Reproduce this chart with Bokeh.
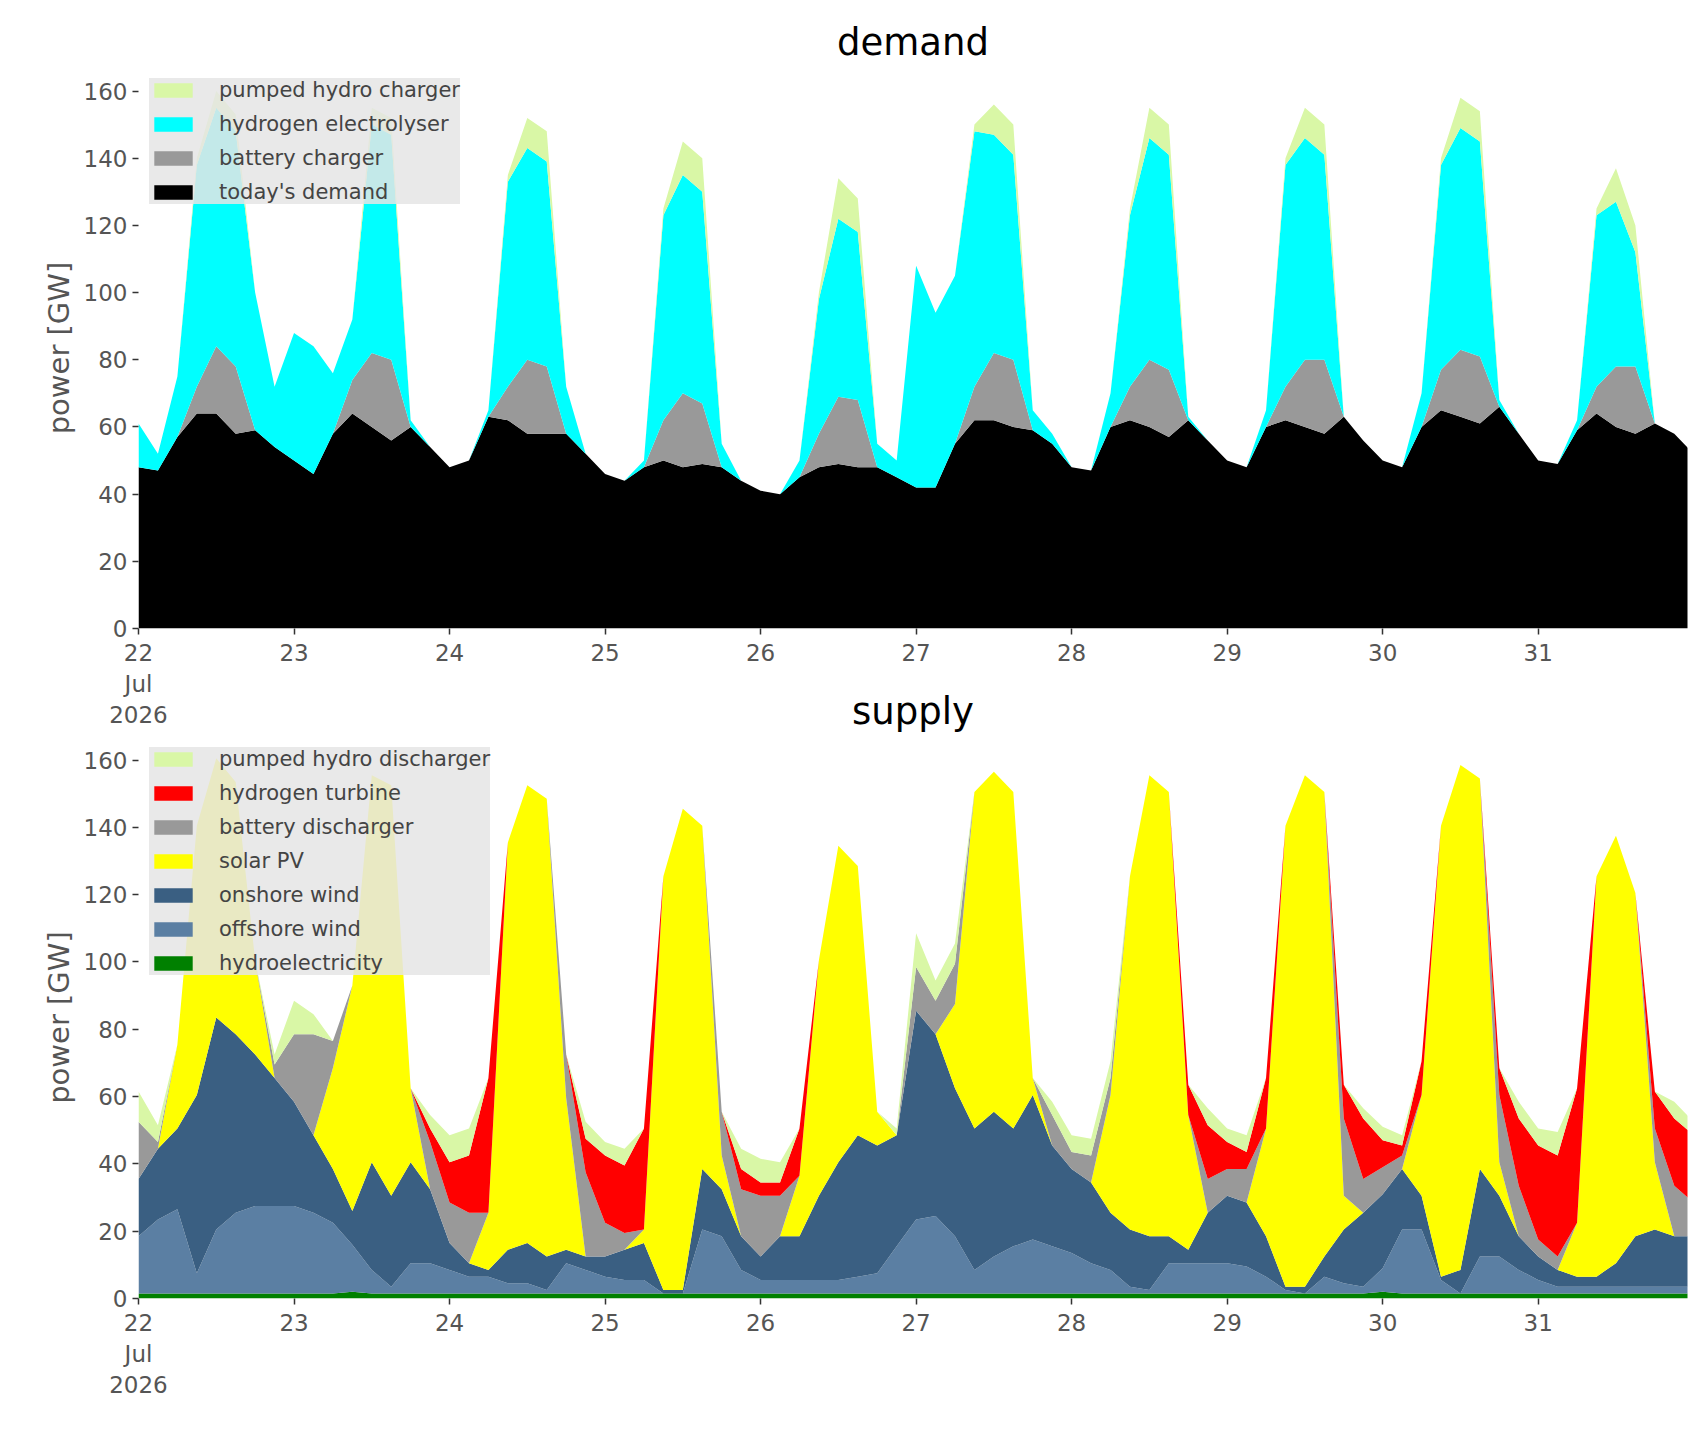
import numpy as np
from bokeh.plotting import figure
from bokeh.layouts import column
from bokeh.models import Range1d, FixedTicker, ColumnDataSource, Legend
from bokeh.embed import file_html
from bokeh.resources import INLINE

# 3-hourly samples, 22 Jul 00:00 .. 1 Aug 00:00 (81 points)
day_labels = ["22\nJul\n2026", "23", "24", "25", "26", "27", "28", "29", "30", "31"]

today_demand = [48,47,57,64,64,58,59,54, 50,46,58,64,60,56,60,54, 48,50,63,62,58,58,58,52,
                46,44,48,50,48,49,48,44, 41,40,45,48,49,48,48,45, 42,42,55,62,62,60,59,55,
                48,47,60,62,60,57,62,56, 50,48,60,62,60,58,63,56, 50,48,60,65,63,61,66,58,
                50,49,59,64,60,58,61,58, 52]
battery_charger = [0,0,0,8,20,20,0,0, 0,0,0,10,22,24,0,0, 0,0,0,10,22,20,0,0, 0,0,0,12,22,18,0,0,
                   0,0,0,10,20,20,0,0, 0,0,0,10,20,20,0,0, 0,0,0,10,20,20,0,0, 0,0,0,10,20,22,0,0,
                   0,0,0,12,20,20,0,0, 0,0,0,8,18,20,0,0, 0]
electrolyser = [13,5,18,66,71,70,41,18, 38,38,18,18,68,67,2,0, 0,0,2,61,63,61,14,0, 0,0,2,61,65,63,7,0,
                0,0,5,40,53,50,7,5, 66,52,50,76,65,61,6,3, 0,0,10,51,66,64,1,0, 0,0,5,66,66,61,0,0,
                0,0,10,61,66,64,2,0, 0,0,3,51,49,34,0,0, 0]
ph_charger = [0,0,0,2,5,5,0,0, 0,0,0,0,5,5,0,0, 0,0,0,2,9,9,0,0, 0,0,0,2,10,10,0,0,
              0,0,0,2,12,10,0,0, 0,0,0,2,9,9,0,0, 0,0,0,2,9,9,0,0, 0,0,0,2,9,9,0,0,
              0,0,0,2,9,9,0,0, 0,0,0,2,10,8,0,0, 0]

hydro = [1.5,1.5,1.5,1.5,1.5,1.5,1.5,1.5, 1.5,1.5,1.5,2,1.5,1.5,1.5,1.5, 1.5,1.5,1.5,1.5,1.5,1.5,1.5,1.5,
         1.5,1.5,1.5,1.5,1.5,1.5,1.5,1.5, 1.5,1.5,1.5,1.5,1.5,1.5,1.5,1.5, 1.5,1.5,1.5,1.5,1.5,1.5,1.5,1.5,
         1.5,1.5,1.5,1.5,1.5,1.5,1.5,1.5, 1.5,1.5,1.5,1.5,1.5,1.5,1.5,1.5, 2,1.5,1.5,1.5,1.5,1.5,1.5,1.5,
         1.5,1.5,1.5,1.5,1.5,1.5,1.5,1.5, 1.5]
offshore = [17,22,25,6,19,24,26,26, 26,24,21,14,7,2,9,9, 7,5,5,3,3,1,9,7, 5,4,4,0,0,19,17,7,
            4,4,4,4,4,5,6,14, 22,23,17,7,11,14,16,14, 12,9,7,2,1,9,9,9, 9,8,5,1,0,5,3,2,
            7,19,19,4,0,11,11,7, 4,2,2,2,2,2,2,2, 2]
onshore = [17,21,24,53,63,53,45,38, 31,23,16,10,32,27,30,22, 8,4,2,10,12,10,4,4, 6,9,11,1,1,18,14,10,
           7,13,13,25,35,42,38,33, 62,54,44,42,43,35,43,30, 25,24,17,17,16,8,4,15, 20,19,12,1,2,6,16,22,
           22,18,10,1,7,26,18,10, 7,5,3,3,7,15,17,15, 15]
solar = [0,0,25,80,77,75,28,0, 0,0,30,67,115,122,22,0, 0,0,17,121,136,136,45,0, 0,0,4,123,143,102,10,0,
         0,0,18,70,94,80,10,0, 0,0,25,100,101,100,5,0, 0,0,35,105,137,132,40,0, 0,0,32,137,152,138,10,0,
         0,0,30,134,150,116,10,0, 0,0,16,119,127,102,20,0, 0]
battery_dis = [17,2,0,0,0,0,0,4, 20,30,8,0,0,0,0,14, 12,15,0,0,0,0,13,25, 10,5,0,0,0,0,13,14,
               18,12,0,0,0,0,0,0, 13,10,12,0,0,0,0,9, 5,8,5,0,0,0,0,10, 8,10,0,0,0,0,23,10,
               8,4,0,0,0,0,20,15, 5,4,0,0,0,0,10,15, 10]
h2_turbine = [0,0,0,0,0,0,0,0, 0,0,0,0,0,0,0,4, 12,17,40,0,0,0,0,10, 20,20,30,0,0,0,0,6,
              4,4,14,0,0,0,0,0, 0,0,0,0,0,0,0,0, 0,0,0,0,0,0,9,16, 8,5,15,0,0,0,10,18,
              8,3,10,0,0,0,8,20, 28,30,40,0,0,0,11,20, 20]
ph_dis = [9,5,0,0,0,0,0,3, 10,6,0,0,0,0,0,4, 8,8,0,0,0,0,0,5, 4,5,0,0,0,0,0,6,
          7,6,0,0,0,0,0,2, 10,6,6,0,0,0,0,4, 5,5,5,0,0,0,0,5, 4,5,0,0,0,0,0,3,
          4,3,0,0,0,0,0,5, 5,7,0,0,0,0,0,5, 4]

x = [i * 3 / 24 for i in range(len(today_demand))]

FONT = "DejaVu Sans"
GRAY = "#555555"
BL, FW, BR = 138, 1549, 6

def make_fig(title, height, border_top, border_bottom, keys, labels, colors, data):
    src = ColumnDataSource(dict(x=x, **data))
    p = figure(width=BL + FW + BR, height=height, output_backend="svg", toolbar_location=None,
               x_range=Range1d(0, 9.96), y_range=Range1d(0, 167),
               min_border_left=BL, min_border_right=BR,
               min_border_top=border_top, min_border_bottom=border_bottom)
    p.title.text = title
    p.title.align = "center"
    p.title.text_font = FONT
    p.title.text_font_size = "37px"
    p.title.text_font_style = "normal"
    p.title.text_color = "#000000"
    p.title.standoff = 8
    rs = p.varea_stack(stackers=keys, x="x", color=colors, source=src)
    items = [(lab, [r]) for lab, r in zip(labels, rs)][::-1]
    leg = Legend(items=items, location="top_left", background_fill_color="#e5e5e5",
                 background_fill_alpha=0.85, border_line_color=None,
                 label_text_font=FONT, label_text_font_size="21px",
                 glyph_width=48, glyph_height=18, label_height=24, spacing=10,
                 padding=9, margin=11, label_standoff=22)
    p.add_layout(leg)
    p.xgrid.visible = False
    p.ygrid.visible = False
    p.outline_line_color = None
    p.background_fill_color = "white"
    for ax in (p.xaxis[0], p.yaxis[0]):
        ax.axis_line_color = None
        ax.minor_tick_line_color = None
        ax.major_tick_line_color = "#333333"
        ax.major_tick_line_width = 1.5
        ax.major_tick_out = 6
        ax.major_tick_in = 0
        ax.major_label_text_font = FONT
        ax.major_label_text_font_size = "23px"
        ax.major_label_text_color = GRAY
    p.xaxis.ticker = FixedTicker(ticks=list(range(11)))
    p.xaxis.major_label_overrides = {i: lab for i, lab in enumerate(day_labels)} | {10: ""}
    p.yaxis.ticker = FixedTicker(ticks=list(range(0, 161, 20)))
    p.yaxis.axis_label = "power [GW]"
    p.yaxis.axis_label_text_font = FONT
    p.yaxis.axis_label_text_font_size = "29px"
    p.yaxis.axis_label_text_font_style = "normal"
    p.yaxis.axis_label_text_color = GRAY
    return p

p1 = make_fig("demand", 730, 67, 101,
              ["d", "bc", "el", "phc"],
              ["today's demand", "battery charger", "hydrogen electrolyser", "pumped hydro charger"],
              ["black", "#999999", "cyan", "#d9f7a6"],
              dict(d=today_demand, bc=battery_charger, el=electrolyser, phc=ph_charger))
p2 = make_fig("supply", 720, 56, 102,
              ["hy", "off", "on", "pv", "bd", "h2", "phd"],
              ["hydroelectricity", "offshore wind", "onshore wind", "solar PV",
               "battery discharger", "hydrogen turbine", "pumped hydro discharger"],
              ["green", "#5b7fa3", "#3a5f82", "yellow", "#999999", "red", "#d9f7a6"],
              dict(hy=hydro, off=offshore, on=onshore, pv=solar, bd=battery_dis,
                   h2=h2_turbine, phd=ph_dis))
p2.border_fill_color = None
p2.margin = (-50, 0, 0, 0)

layout = column(p1, p2, spacing=0)
open("out.html", "w").write(file_html(layout, INLINE))
